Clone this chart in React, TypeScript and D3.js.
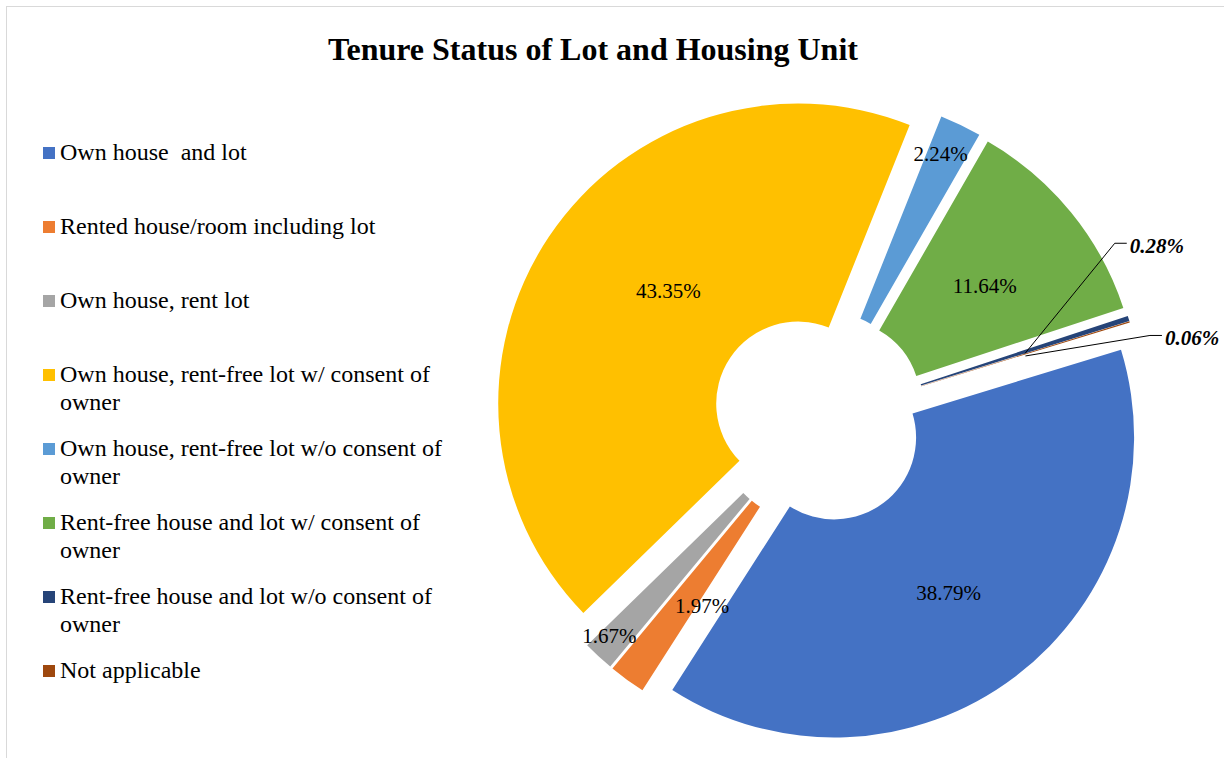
import React from "react";
import * as d3 from "d3";

const TITLE = "Tenure Status of Lot and Housing Unit";
const CATEGORIES = [
  "Own house  and lot",
  "Rented house/room including lot",
  "Own house, rent lot",
  "Own house, rent-free lot w/ consent of owner",
  "Own house, rent-free lot w/o consent of owner",
  "Rent-free house and lot w/ consent of owner",
  "Rent-free house and lot w/o consent of owner",
  "Not applicable",
];
const VALUES = [38.79, 1.97, 1.67, 43.35, 2.24, 11.64, 0.28, 0.06];
const COLORS = ["#4472C4", "#ED7D31", "#A5A5A5", "#FFC000", "#5B9BD5", "#70AD47", "#264478", "#9E480E"];
// label nudges from each slice's centroid (data-label placement as in the original)
const LABEL_NUDGE: [number, number][] = [
  [-1, 3], [10.6, 14.2], [-63, 60], [29, -7], [27.5, -69.4], [-1.7, 4.7], [105, -106], [139.5, -16],
];
const CALLOUT = [false, false, false, false, false, false, true, true];

const W = 1224;
const H = 758;
const CX = 819;
const CY = 417.5;
const R_OUT = 300;
const R_IN = 82;
const EXPLODE = 25;
const START = (73 * Math.PI) / 180;
const SERIF = "'Liberation Serif', 'Times New Roman', Times, serif";

function wrapText(text: string, maxWidth: number, font: string): string[] {
  const canvas = document.createElement("canvas");
  const ctx = canvas.getContext("2d")!;
  ctx.font = font;
  const words = text.split(" ");
  const lines: string[] = [];
  let cur = "";
  for (const w of words) {
    const test = cur === "" ? w : cur + " " + w;
    if (ctx.measureText(test).width > maxWidth && cur !== "") {
      lines.push(cur);
      cur = w;
    } else {
      cur = test;
    }
  }
  if (cur !== "") lines.push(cur);
  return lines;
}

export default function App() {
  const pie = d3
    .pie<number>()
    .sort(null)
    .value((d) => d)
    .startAngle(START)
    .endAngle(START + 2 * Math.PI);
  const arcs = pie(VALUES);
  const arc = d3.arc<d3.PieArcDatum<number>>().innerRadius(R_IN).outerRadius(R_OUT);
  const fmt = d3.format(".2f");

  const legendFont = `24px ${SERIF}`;

  return (
    <div style={{ position: "absolute", left: 0, top: 0, width: W, height: H, background: "#fff" }}>
      <svg width={W} height={H} style={{ display: "block" }}>
        <rect x={0} y={0} width={W} height={H} fill="#fff" />
        <rect x={6.5} y={6.5} width={W + 20} height={H + 20} fill="none" stroke="#D9D9D9" strokeWidth={1} />
        <text
          x={593}
          y={60}
          textAnchor="middle"
          fontFamily={SERIF}
          fontSize={32}
          fontWeight="bold"
          fill="#000"
        >
          {TITLE}
        </text>

        {/* Legend */}
        {CATEGORIES.map((c, i) => {
          const base = 160 + i * 74;
          const lines = wrapText(c, 392, legendFont);
          return (
            <g key={"lg" + i}>
              <rect x={43} y={base - 13} width={12} height={12} fill={COLORS[i]} />
              <text x={60} y={base} fontFamily={SERIF} fontSize={24} fill="#000" style={{ whiteSpace: "pre" }}>
                {lines.map((l, j) => (
                  <tspan key={j} x={60} y={base + j * 28.3}>
                    {l}
                  </tspan>
                ))}
              </text>
            </g>
          );
        })}

        {/* Doughnut slices */}
        {arcs.map((a, i) => {
          const mid = (a.startAngle + a.endAngle) / 2;
          const ox = CX + EXPLODE * Math.sin(mid);
          const oy = CY - EXPLODE * Math.cos(mid);
          return (
            <path key={"s" + i} d={arc(a) || ""} fill={COLORS[i]} transform={`translate(${ox},${oy})`} />
          );
        })}

        {/* Data labels */}
        {arcs.map((a, i) => {
          const mid = (a.startAngle + a.endAngle) / 2;
          const ox = CX + EXPLODE * Math.sin(mid);
          const oy = CY - EXPLODE * Math.cos(mid);
          const [cxx, cyy] = arc.centroid(a);
          const px = ox + cxx;
          const py = oy + cyy;
          const lx = px + LABEL_NUDGE[i][0];
          const ly = py + LABEL_NUDGE[i][1];
          const txt = fmt(VALUES[i]) + "%";
          if (CALLOUT[i]) {
            return (
              <g key={"l" + i}>
                <polyline
                  points={`${px},${py + 2} ${lx - 15},${ly - 2.5} ${lx - 3},${ly - 2.5}`}
                  fill="none"
                  stroke="#000"
                  strokeWidth={1}
                />
                <text
                  x={lx}
                  y={ly}
                  dy="0.34em"
                  textAnchor="start"
                  fontFamily={SERIF}
                  fontSize={21}
                  fontWeight="bold"
                  fontStyle="italic"
                  fill="#000"
                >
                  {txt}
                </text>
              </g>
            );
          }
          return (
            <text
              key={"l" + i}
              x={lx}
              y={ly}
              dy="0.34em"
              textAnchor="middle"
              fontFamily={SERIF}
              fontSize={21}
              fill="#000"
            >
              {txt}
            </text>
          );
        })}
      </svg>
    </div>
  );
}
